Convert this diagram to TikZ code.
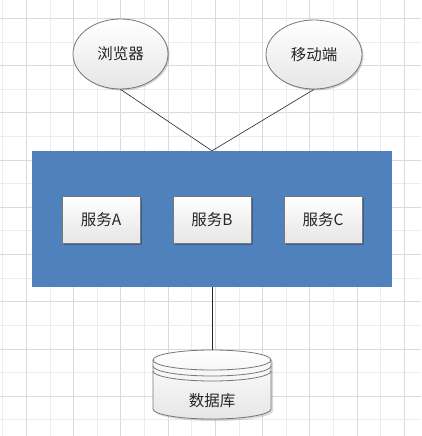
\documentclass[tikz,border=0pt]{standalone}
\usepackage{fontspec}
\newfontfamily\cjk{Noto Sans CJK SC}
\usetikzlibrary{shapes.geometric,shadows}
\definecolor{gridA}{HTML}{DADADA}
\definecolor{gridB}{HTML}{ECECEC}
\definecolor{sysblue}{HTML}{4F81BD}
\definecolor{edgegray}{HTML}{777777}
\definecolor{shadebot}{HTML}{E6E6E6}
\begin{document}
\begin{tikzpicture}[x=1pt,y=-1pt,
  lbl/.style={font=\cjk\fontsize{15.5}{18}\selectfont, text=black!85},
  cloud/.style={ellipse, draw=edgegray, line width=0.8pt, top color=white, bottom color=shadebot, inner sep=0pt, lbl,
    drop shadow={shadow xshift=1.5pt, shadow yshift=-1.5pt, opacity=0.18, fill=black}},
  svc/.style={rectangle, draw=edgegray, line width=0.8pt, top color=white, bottom color=shadebot, inner sep=0pt,
    minimum width=78pt, minimum height=47pt, lbl,
    drop shadow={shadow xshift=1.5pt, shadow yshift=-1.5pt, opacity=0.25, fill=black}},
  conn/.style={draw=black!85, line width=0.6pt}]
\useasboundingbox (0,0) rectangle (421,436);
\fill[white] (0,0) rectangle (421,436);
% grid
\foreach \k in {0,...,17}{
  \pgfmathsetmacro{\gx}{2.7+23.62*\k}
  \pgfmathtruncatemacro{\odd}{mod(\k,2)}
  \ifnum\odd=1 \draw[gridA, line width=0.8pt] (\gx,0) -- (\gx,436);
  \else \draw[gridB, line width=0.8pt] (\gx,0) -- (\gx,436); \fi
  \pgfmathsetmacro{\gy}{18.3+23.62*\k}
  \ifnum\odd=0 \draw[gridA, line width=0.8pt] (0,\gy) -- (421,\gy);
  \else \draw[gridB, line width=0.8pt] (0,\gy) -- (421,\gy); \fi
}
% system block
\node[rectangle, fill=sysblue, minimum width=360pt, minimum height=136pt, inner sep=0pt] (sys) at (212,219) {};
% clients
\node[cloud, minimum width=95pt, minimum height=70pt] (browser) at (120.5,54) {浏览器};
\node[cloud, minimum width=96pt, minimum height=69pt] (mobile) at (314,54.5) {移动端};
% services
\node[svc] (sa) at (101,219.5) {服务A};
\node[svc] (sb) at (212,219.5) {服务B};
\node[svc] (sc) at (323,219.5) {服务C};
% database
\node[rectangle, minimum width=118pt, minimum height=69pt, inner sep=0pt] (db) at (212,384.5) {};
\fill[black, opacity=0.15] (155,362) -- (155,411) arc[start angle=180,end angle=360,x radius=59pt,y radius=10pt] -- (273,362) arc[start angle=0,end angle=180,x radius=59pt,y radius=10pt] -- cycle;
\path[draw=edgegray, line width=0.8pt, top color=white, bottom color=shadebot]
  (153,360) -- (153,409) arc[start angle=180,end angle=360,x radius=59pt,y radius=10pt] -- (271,360)
  arc[start angle=0,end angle=180,x radius=59pt,y radius=10pt] -- cycle;
\draw[edgegray, line width=0.8pt] (153,360) arc[start angle=180,end angle=360,x radius=59pt,y radius=10pt];
\draw[edgegray, line width=0.8pt] (153,366) arc[start angle=180,end angle=360,x radius=59pt,y radius=10pt];
\draw[edgegray, line width=0.8pt] (153,371) arc[start angle=180,end angle=360,x radius=59pt,y radius=10pt];
\node[lbl] (dblabel) at (212,401) {数据库};
% connectors
\draw[conn] (browser.south) -- (sys.north);
\draw[conn] (mobile.south) -- (sys.north);
\draw[conn] (sys.south) -- (db.north);
\end{tikzpicture}
\end{document}
